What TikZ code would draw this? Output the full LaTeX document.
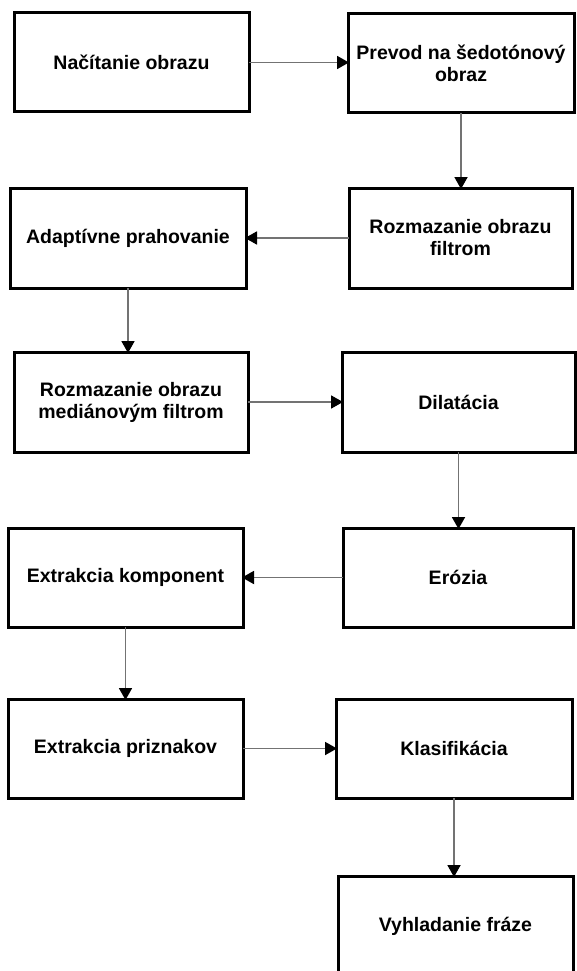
\documentclass[tikz,border=0pt]{standalone}
\usepackage{fontspec}
\setmainfont{Liberation Sans}
\usetikzlibrary{arrows.meta}
\tikzset{
  stepbox/.style={draw=black, line width=3pt, fill=white, inner sep=0pt, outer sep=0pt,
    align=center, font=\fontsize{19.5}{22}\selectfont\bfseries, text=black},
  flow/.style={draw=black!55, line width=1.8pt,
    -{Triangle[length=12pt,width=13pt,color=black,fill=black]}, shorten >=-1pt}
}
\newcommand{\mkbox}[6]{%
  \pgfmathsetmacro{\bw}{#4-#2}\pgfmathsetmacro{\bh}{#5-#3}%
  \pgfmathsetmacro{\cx}{(#2+#4)/2}\pgfmathsetmacro{\cy}{(#3+#5)/2}%
  \node[stepbox, minimum width=\bw pt, minimum height=\bh pt] (#1) at (\cx,\cy) {#6};}
\begin{document}
\begin{tikzpicture}[x=1pt,y=-1pt]
\useasboundingbox (0,0) rectangle (577,971);
\clip (0,0) rectangle (577,971);
\fill[white] (0,0) rectangle (577,971);
\mkbox{b1}{14}{13}{249}{112}{Načítanie obrazu}
\mkbox{b2}{348}{14}{574}{113}{Prevod na šedotónový\\obraz}
\mkbox{b3}{349}{188}{572}{288}{Rozmazanie obrazu\\filtrom}
\mkbox{b4}{10}{188}{246}{288}{Adaptívne prahovanie}
\mkbox{b5}{14}{352}{248}{452}{Rozmazanie obrazu\\mediánovým filtrom}
\mkbox{b6}{342}{352}{575}{452}{Dilatácia}
\mkbox{b7}{343}{528}{573}{627}{Erózia}
\mkbox{b8}{8}{528}{243}{627}{Extrakcia komponent}
\mkbox{b9}{8}{699}{243}{798}{Extrakcia priznakov}
\mkbox{b10}{336}{699}{572}{798}{Klasifikácia}
\mkbox{b11}{338}{876}{573}{976}{Vyhladanie fráze}
\draw[flow] (b1.east) -- (b1.east -| b2.west);
\draw[flow] (b2.south) -- (b2.south |- b3.north);
\draw[flow] (b3.west) -- (b3.west -| b4.east);
\draw[flow] (b4.south) -- (b4.south |- b5.north);
\draw[flow] (b5.east) -- (b5.east -| b6.west);
\draw[flow] (b6.south) -- (b6.south |- b7.north);
\draw[flow] (b7.west) -- (b7.west -| b8.east);
\draw[flow] (b8.south) -- (b8.south |- b9.north);
\draw[flow] (b9.east) -- (b9.east -| b10.west);
\draw[flow] (b10.south) -- (b10.south |- b11.north);
\end{tikzpicture}
\end{document}
